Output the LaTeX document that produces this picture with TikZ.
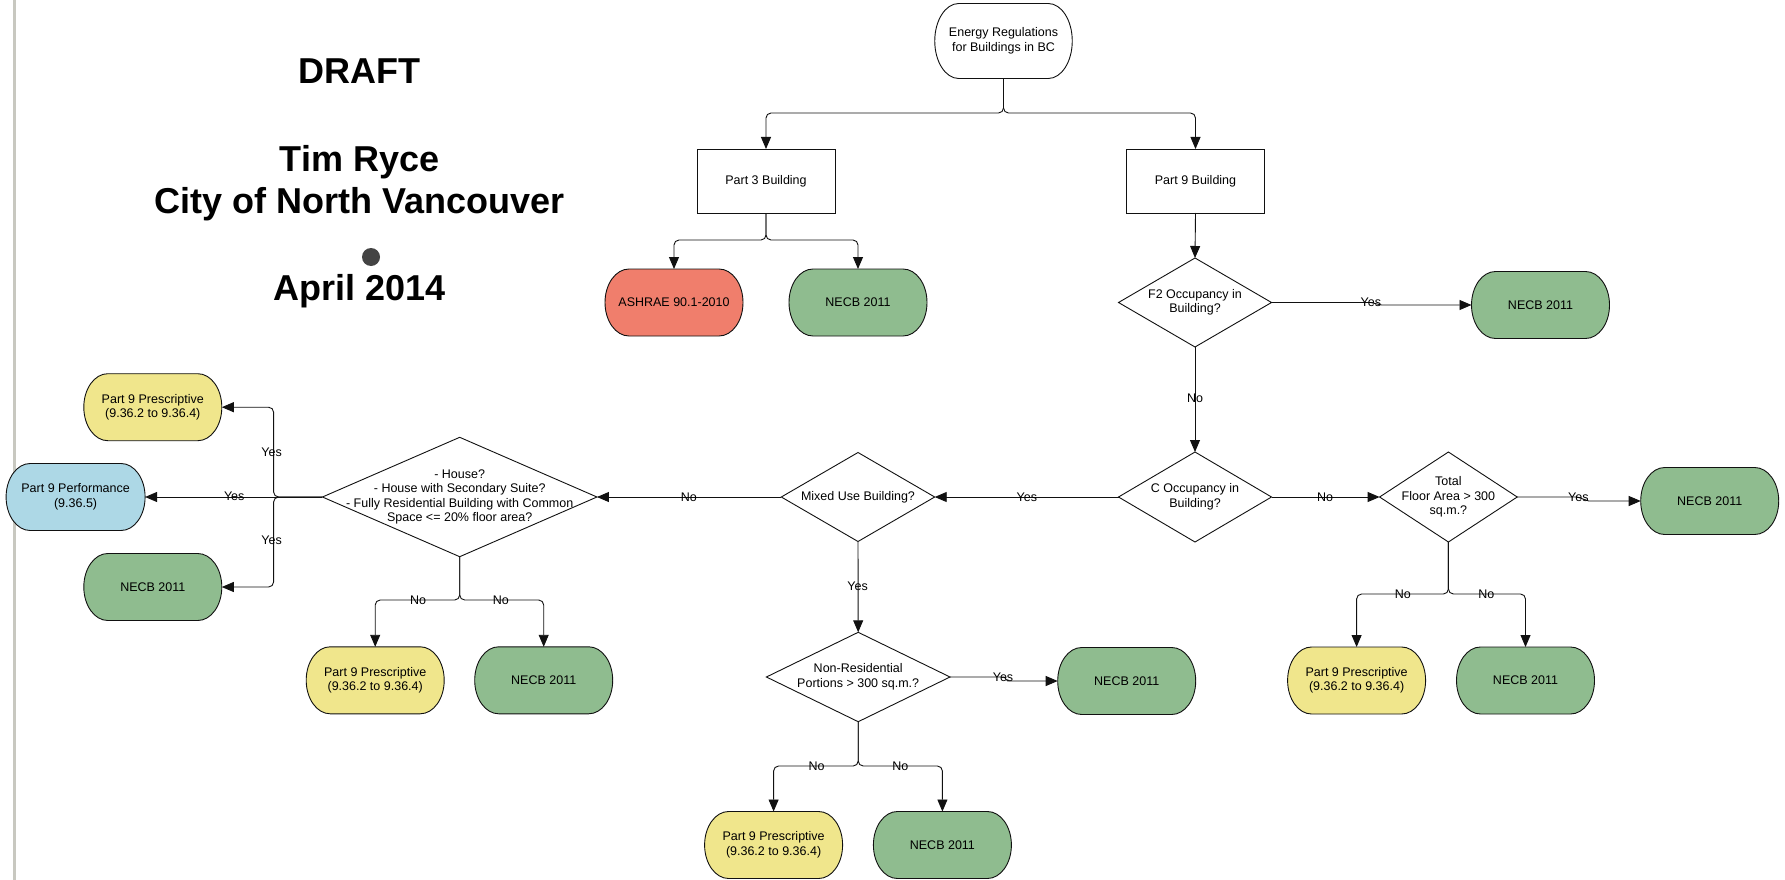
\documentclass[tikz,border=0pt]{standalone}
\usepackage{fontspec}
\setmainfont{Liberation Sans}
\usetikzlibrary{shapes.geometric,arrows.meta,calc,backgrounds}
\definecolor{gr}{HTML}{8FBC8F}
\definecolor{yl}{HTML}{F0E68C}
\definecolor{bl}{HTML}{ADD8E6}
\definecolor{rd}{HTML}{F07E6C}
\definecolor{edge}{HTML}{111111}
\definecolor{rule}{HTML}{C8C8C0}
\definecolor{dotc}{HTML}{444444}
\newcommand{\nodefont}{\fontsize{12.5}{14.5}\selectfont}
\tikzset{
  term/.style={minimum width=138pt, minimum height=67pt, inner sep=0pt, outer sep=0pt, align=center, font=\nodefont},
  rectbox/.style={draw=edge, line width=0.9pt, minimum width=138pt, minimum height=64pt, inner sep=0pt, outer sep=0pt, align=center, font=\nodefont},
  dia/.style={diamond, draw=edge, line width=0.9pt, inner sep=0pt, outer sep=0pt},
  diatext/.style={align=center, font=\nodefont, inner sep=0pt},
  arr/.style={draw=edge, line width=0.9pt, -{Triangle[length=12pt,width=10pt]}, rounded corners=5pt},
  arrs/.style={draw=edge, line width=0.9pt, -{Triangle[length=12pt,width=10pt]}},
  lbl/.style={font=\nodefont, inner sep=0pt},
  ttl/.style={font=\fontsize{36}{40}\selectfont\bfseries, anchor=base, inner sep=0pt}
}
\begin{document}
\begin{tikzpicture}[x=1pt,y=1pt]
\useasboundingbox (0,0) rectangle (1785,-880);

% titles
\node[ttl] (draft) at (359.5,-83.3) {DRAFT};
\node[ttl] (tim) at (359.5,-171.7) {Tim Ryce};
\node[ttl] (city) at (359.5,-213.3) {City of North Vancouver};
\node[circle, fill=dotc, inner sep=0pt, minimum size=18pt] (dot) at (371,-257) {};
\node[ttl] (april) at (359.5,-300) {April 2014};

% nodes
\node[term, minimum width=137.5pt, minimum height=75pt] (e) at (1003.5,-41) {Energy Regulations\\for Buildings in BC};
\node[rectbox] (p3) at (766,-181) {Part 3 Building};
\node[rectbox] (p9) at (1195.5,-181) {Part 9 Building};
\node[term] (ash) at (674,-302.5) {ASHRAE 90.1-2010};
\node[term] (n3) at (858,-302.5) {NECB 2011};
\node[dia, minimum width=153pt, minimum height=89pt, label={[diatext]center:{F2 Occupancy in\\Building?}}] (f2) at (1195,-302.5) {};
\node[term] (nf2) at (1540.5,-305) {NECB 2011};
\node[dia, minimum width=153pt, minimum height=90pt, label={[diatext]center:{C Occupancy in\\Building?}}] (c) at (1195,-497) {};
\node[dia, minimum width=137.6pt, minimum height=90pt, label={[diatext]center:{Total\\Floor Area > 300\\sq.m.?}}] (tot) at (1448.4,-497) {};
\node[term] (ntot) at (1709.7,-501) {NECB 2011};
\node[term] (pt) at (1356.6,-680.5) {Part 9 Prescriptive\\(9.36.2 to 9.36.4)};
\node[term] (nt) at (1525.5,-680.5) {NECB 2011};
\node[dia, minimum width=153.4pt, minimum height=89pt, label={[diatext]center:{Mixed Use Building?}}] (mix) at (858,-497) {};
\node[dia, minimum width=183.6pt, minimum height=89.4pt, label={[diatext]center:{Non-Residential\\Portions > 300 sq.m.?}}] (nr) at (858.2,-677) {};
\node[term] (nnr) at (1126.7,-681) {NECB 2011};
\node[term] (pnr) at (773.6,-845) {Part 9 Prescriptive\\(9.36.2 to 9.36.4)};
\node[term] (nnr2) at (942.4,-845) {NECB 2011};
\node[dia, minimum width=274.5pt, minimum height=119.4pt, label={[diatext]center:{- House?\\- House with Secondary Suite?\\- Fully Residential Building with Common\\Space <= 20\% floor area?}}] (big) at (459.7,-497) {};
\node[term] (pb) at (375.2,-680.3) {Part 9 Prescriptive\\(9.36.2 to 9.36.4)};
\node[term] (nb) at (543.7,-680.3) {NECB 2011};
\node[term] (pl) at (152.8,-407.2) {Part 9 Prescriptive\\(9.36.2 to 9.36.4)};
\node[term, minimum width=139pt] (perf) at (75.6,-497) {Part 9 Performance\\(9.36.5)};
\node[term] (nl) at (152.8,-587) {NECB 2011};

% background: page, rule line, terminal shapes
\begin{scope}[on background layer]
  \fill[white] (0,0) rectangle (1785,-880);
  \fill[rule] (13.2,0) rectangle (15.8,-880);
  \foreach \k/\c in {e/white, ash/rd, n3/gr, nf2/gr, ntot/gr, pt/yl, nt/gr, nnr/gr, pnr/yl, nnr2/gr, pb/yl, nb/gr, pl/yl, perf/bl, nl/gr}{
    \filldraw[fill=\c, draw=edge, line width=0.9pt]
      let \p1=(\k.north east), \p2=(\k.south west), \n1={(\y1-\y2)/2} in
      (\x2+24pt,\y2) -- (\x1-24pt,\y2)
      arc[start angle=-90, end angle=90, x radius=24pt, y radius=\n1]
      -- (\x2+24pt,\y1)
      arc[start angle=90, end angle=270, x radius=24pt, y radius=\n1]
      -- cycle;
  }
\end{scope}

% junction coordinates
\coordinate (j1) at (1003.5,-113);
\coordinate (j2) at (766,-240);
\coordinate (j3) at (1448.4,-594);
\coordinate (j4) at (858.2,-766);
\coordinate (j5) at (459.7,-600);
\coordinate (j6) at (273.6,-497);

% connectors
\draw[arr] (e.south) -- (j1) -| (p3.north);
\draw[arr] (e.south) -- (j1) -| (p9.north);
\draw[arr] (p3.south) -- (j2) -| (ash.north);
\draw[arr] (p3.south) -- (j2) -| (n3.north);
\draw[arr] (p9.south) -- (f2.north);
\draw[arrs] (f2.east) -- ++(99,0) -- ($(nf2.west)+(-90,0)$) -- (nf2.west);
\draw[arr] (f2.south) -- (c.north);
\draw[arr] (c.east) -- (tot.west);
\draw[arrs] (tot.east) -- ++(60,0) -- ($(ntot.west)+(-52,0)$) -- (ntot.west);
\draw[arr] (tot.south) -- (j3) -| (pt.north);
\draw[arr] (tot.south) -- (j3) -| (nt.north);
\draw[arr] (c.west) -- (mix.east);
\draw[arr] (mix.west) -- (big.east);
\draw[arr] (mix.south) -- (nr.north);
\draw[arrs] (nr.east) -- ++(54,0) -- ($(nnr.west)+(-50,0)$) -- (nnr.west);
\draw[arr] (nr.south) -- (j4) -| (pnr.north);
\draw[arr] (nr.south) -- (j4) -| (nnr2.north);
\draw[arr] (big.south) -- (j5) -| (pb.north);
\draw[arr] (big.south) -- (j5) -| (nb.north);
\draw[arr] (big.west) -- (j6) |- (pl.east);
\draw[arr] (big.west) -- (perf.east);
\draw[arr] (big.west) -- (j6) |- (nl.east);

% labels
\node[lbl] (l1) at (1370.9,-302.7) {Yes};
\node[lbl] (l2) at (1195,-398) {No};
\node[lbl] (l3) at (1325,-497) {No};
\node[lbl] (l4) at (1578.4,-497) {Yes};
\node[lbl] (l5) at (1402.8,-594) {No};
\node[lbl] (l6) at (1486.4,-594) {No};
\node[lbl] (l7) at (1026.8,-497) {Yes};
\node[lbl] (l8) at (688.9,-497) {No};
\node[lbl] (l9) at (857.6,-586) {Yes};
\node[lbl] (l10) at (1003,-677) {Yes};
\node[lbl] (l11) at (816.6,-766) {No};
\node[lbl] (l12) at (900.3,-766) {No};
\node[lbl] (l13) at (418,-600) {No};
\node[lbl] (l14) at (500.8,-600) {No};
\node[lbl] (l15) at (271.6,-452.7) {Yes};
\node[lbl] (l16) at (234.2,-496) {Yes};
\node[lbl] (l17) at (271.6,-540) {Yes};
\end{tikzpicture}
\end{document}
